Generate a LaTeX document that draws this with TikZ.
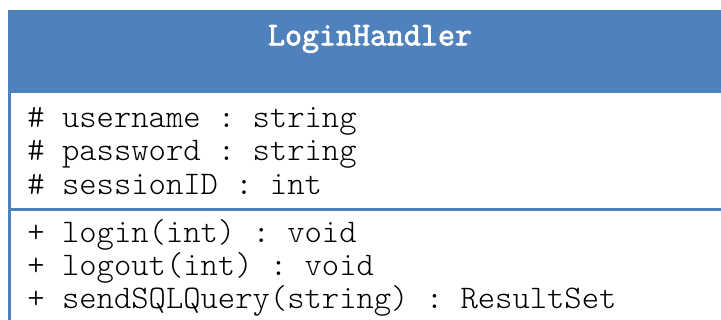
\documentclass[tikz,border=0pt]{standalone}
\usepackage{fontspec}
\usepackage{xcolor}
\setmonofont{Latin Modern Mono Light}
\newfontfamily\boldmono[FakeBold=2.5]{Latin Modern Mono}
\definecolor{umlblue}{RGB}{79,129,189}
\tikzset{
        member/.style={anchor=base west, inner sep=0pt, font=\ttfamily\fontsize{16.5}{18}\selectfont},
        classname/.style={inner sep=0pt, text=white, font=\boldmono\fontsize{16.5}{18}\selectfont},
    }

\begin{document}
\begin{tikzpicture}[x=0.5pt,y=-0.5pt]
\useasboundingbox (0,0) rectangle (721,320);
\clip (0,0) rectangle (721,320);
\fill[white](0,0) rectangle (721,320);
\fill[umlblue](8,10) rectangle (740,93);
\draw[umlblue,line width=1.5pt](9.5,11.5)--(9.5,330);
\draw[umlblue,line width=1.5pt](9.5,209.5)--(740,209.5);
\draw[umlblue,line width=1.5pt](9.5,11.5)--(740,11.5);
\node[classname](title) at (370,39) {LoginHandler};
\node[member](username) at (27,128) {\# username : string};
\node[member](password) at (27,161) {\# password : string};
\node[member](sessionid) at (27,194) {\# sessionID : int};
\node[member](login) at (27,242) {+ login(int) : void};
\node[member](logout) at (27,275) {+ logout(int) : void};
\node[member](sendquery) at (27,308) {+ sendSQLQuery(string) : ResultSet};
\end{tikzpicture}
\end{document}
